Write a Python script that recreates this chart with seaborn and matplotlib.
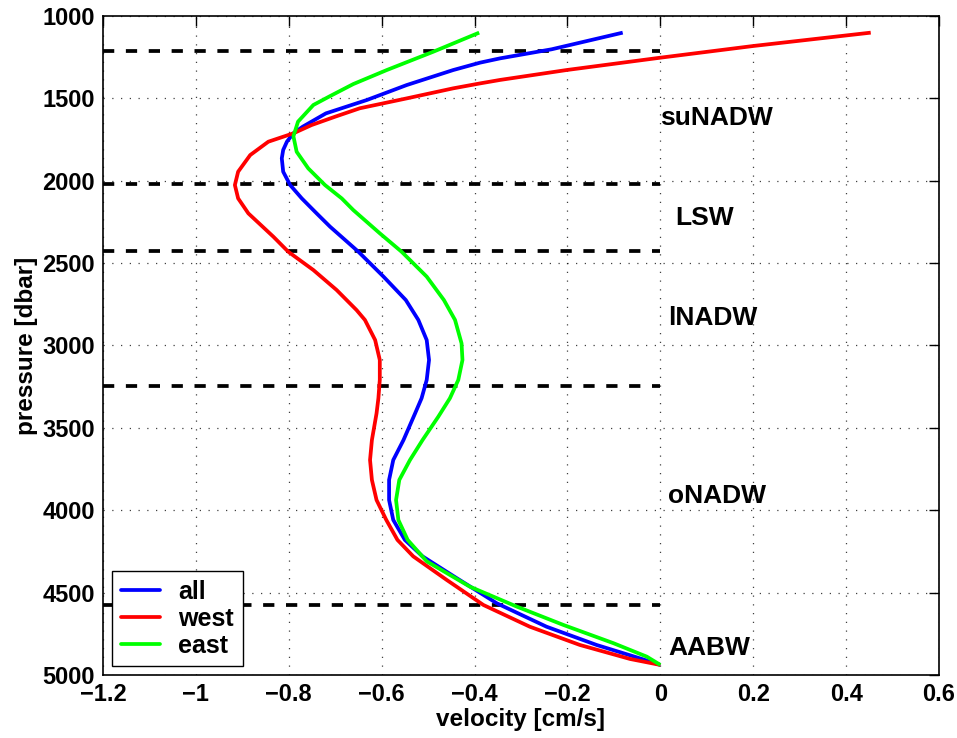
import numpy as np
import pandas as pd
import matplotlib
matplotlib.use("Agg")
import matplotlib.pyplot as plt
from matplotlib.lines import Line2D
import seaborn as sns

# ---- data ----
all_p = [1101, 1202, 1257, 1283, 1328, 1419, 1510, 1591, 1672, 1712,
         1763, 1813, 1864, 1945, 2026, 2107, 2198, 2279, 2431, 2582,
         2724, 2845, 2967, 3088, 3209, 3320, 3412, 3574, 3695, 3816,
         3938, 4059, 4180, 4280, 4413, 4565, 4707, 4818, 4899, 4939]
all_v = [-0.081, -0.234, -0.345, -0.388, -0.446, -0.546, -0.632, -0.720, -0.770, -0.790,
         -0.804, -0.812, -0.815, -0.812, -0.797, -0.772, -0.740, -0.711, -0.650, -0.596,
         -0.548, -0.521, -0.503, -0.498, -0.503, -0.514, -0.528, -0.553, -0.575, -0.584,
         -0.584, -0.575, -0.550, -0.512, -0.438, -0.352, -0.245, -0.137, -0.044, 0.0]

west_p = [1101, 1182, 1253, 1328, 1388, 1409, 1439, 1500, 1560, 1611,
          1662, 1712, 1763, 1844, 1945, 2026, 2107, 2198, 2340, 2431,
          2542, 2663, 2785, 2845, 2967, 3088, 3209, 3320, 3412, 3574,
          3695, 3816, 3938, 4059, 4180, 4280, 4423, 4575, 4707, 4818,
          4903, 4939]
west_v = [0.453, 0.200, 0.0, -0.202, -0.345, -0.388, -0.446, -0.546, -0.647, -0.700,
          -0.751, -0.790, -0.844, -0.883, -0.909, -0.916, -0.909, -0.887, -0.833, -0.801,
          -0.747, -0.697, -0.654, -0.636, -0.614, -0.604, -0.604, -0.607, -0.611, -0.621,
          -0.625, -0.621, -0.611, -0.590, -0.566, -0.532, -0.460, -0.381, -0.281, -0.173,
          -0.065, 0.0]

east_p = [1101, 1217, 1328, 1413, 1486, 1540, 1641, 1730, 1824, 1925,
          2026, 2107, 2178, 2319, 2431, 2582, 2724, 2845, 2987, 3088,
          3209, 3320, 3432, 3574, 3695, 3816, 3938, 4059, 4180, 4310,
          4464, 4585, 4696, 4807, 4889, 4939]
east_v = [-0.390, -0.489, -0.589, -0.661, -0.711, -0.747, -0.780, -0.790, -0.783, -0.758,
          -0.722, -0.686, -0.661, -0.604, -0.557, -0.503, -0.466, -0.442, -0.428, -0.426,
          -0.435, -0.453, -0.478, -0.512, -0.539, -0.562, -0.569, -0.564, -0.544, -0.503,
          -0.410, -0.309, -0.209, -0.101, -0.029, 0.0]

layer_bounds = [1210, 2019, 2424, 3243, 4578]
layer_names = ["suNADW", "LSW", "lNADW", "oNADW", "AABW"]
layer_label_v = [0.0, 0.033, 0.017, 0.017, 0.018]
layer_label_p = [1620, 2226, 2833, 3912, 4835]

xticks = [-1.2, -1, -0.8, -0.6, -0.4, -0.2, 0, 0.2, 0.4, 0.6]
xticklabels = ["\u22121.2", "\u22121", "\u22120.8", "\u22120.6", "\u22120.4", "\u22120.2", "0", "0.2", "0.4", "0.6"]
yticks = [1000, 1500, 2000, 2500, 3000, 3500, 4000, 4500, 5000]

series = ["all", "west", "east"]
colors = {"all": "#0000ff", "west": "#ff0000", "east": "#00ff00"}

df = pd.concat([
    pd.DataFrame({"velocity": all_v, "pressure": all_p, "region": "all"}),
    pd.DataFrame({"velocity": west_v, "pressure": west_p, "region": "west"}),
    pd.DataFrame({"velocity": east_v, "pressure": east_p, "region": "east"}),
], ignore_index=True)

sns.set_style("white")
plt.rcParams["font.family"] = ["Liberation Sans", "DejaVu Sans"]
plt.rcParams["font.weight"] = "bold"
for k in ["text.color", "axes.labelcolor", "xtick.color", "ytick.color", "axes.edgecolor"]:
    plt.rcParams[k] = "black"

fig = plt.figure(figsize=(9.57, 7.38), dpi=100)
ax = fig.add_axes([0.1076, 0.0854, 0.8736, 0.8929])

sns.lineplot(data=df, x="velocity", y="pressure", hue="region", hue_order=series,
             palette=colors, sort=False, estimator=None, units="region",
             linewidth=2.7, ax=ax, legend=False, zorder=3)
for ln in ax.lines:
    ln.set_solid_joinstyle("round")
    ln.set_solid_capstyle("butt")

ax.hlines(layer_bounds, -1.2, 0, colors="black", linestyles=(0, (3.0, 3.1)),
          linewidth=2.7, zorder=2)

for name, v, p in zip(layer_names, layer_label_v, layer_label_p):
    ax.text(v, p, name, fontsize=19, fontweight="bold", ha="left", va="center")

ax.set_xlim(-1.2, 0.6)
ax.set_ylim(5000, 1000)
ax.set_xticks(xticks)
ax.set_xticklabels(xticklabels)
ax.set_yticks(yticks)
ax.tick_params(axis="both", which="both", direction="in", length=7, width=1,
               top=True, right=True, labelsize=17, pad=6, colors="black")
for lab in ax.get_xticklabels() + ax.get_yticklabels():
    lab.set_fontweight("bold")
ax.grid(True, linestyle=(0, (1, 6)), color="black", linewidth=0.9, alpha=0.75, zorder=0)
for s in ax.spines.values():
    s.set_color("black")
    s.set_linewidth(1.2)

ax.set_xlabel("velocity [cm/s]", fontsize=17.5, fontweight="bold", labelpad=1)
ax.set_ylabel("pressure [dbar]", fontsize=17.5, fontweight="bold", labelpad=3)

handles = [Line2D([0], [0], color=colors[s], linewidth=2.7) for s in series]
leg = ax.legend(handles, series, loc="lower left", bbox_to_anchor=(0.011, 0.013),
                prop={"size": 18, "weight": "bold"}, frameon=True, fancybox=False,
                handlelength=1.55, handletextpad=0.75, borderpad=0.35,
                labelspacing=0.12, borderaxespad=0)
leg.get_frame().set_edgecolor("black")
leg.get_frame().set_linewidth(1.0)
leg.get_frame().set_alpha(1.0)

fig.savefig("out.png", dpi=100, facecolor="white")
